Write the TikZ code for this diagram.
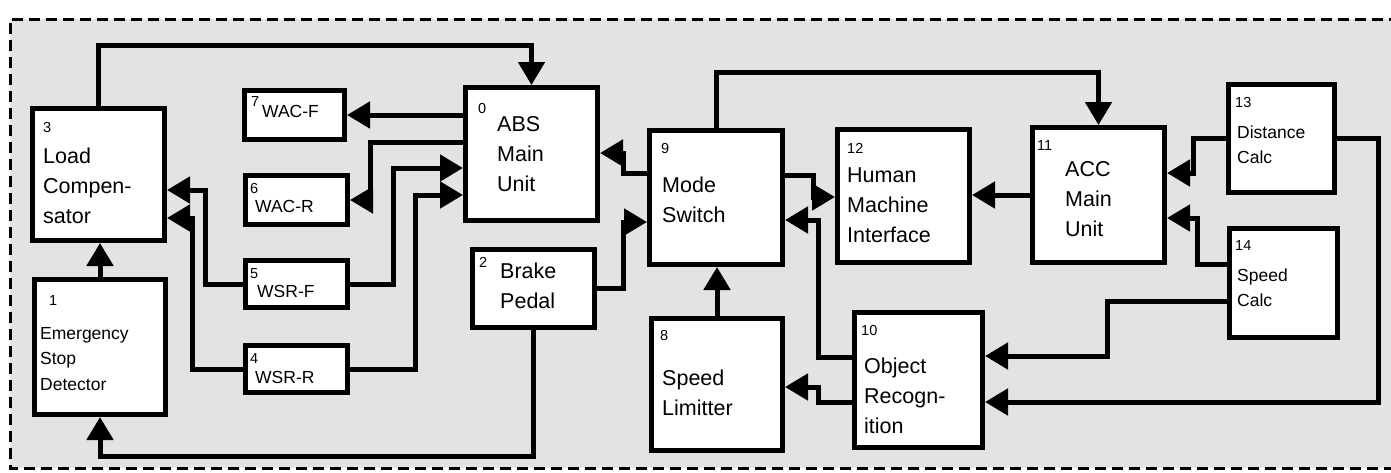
\documentclass[tikz,border=0pt]{standalone}
\usepackage{fontspec}
\setmainfont{Liberation Sans}
\usetikzlibrary{arrows.meta}

\begin{document}
\begin{tikzpicture}[x=1pt,y=-1pt,
    box/.style={draw, line width=5pt, fill=white, inner sep=0pt},
    wire/.style={line width=5pt, -{Triangle[length=23pt,width=26pt]}},
    num/.style={anchor=base west, inner sep=0pt, font=\fontsize{14.5}{16}\selectfont},
    txt/.style={anchor=base west, inner sep=0pt, align=left, font=\fontsize{21.5}{30}\selectfont},
    small/.style={anchor=base west, inner sep=0pt, align=left, font=\fontsize{17.5}{25.5}\selectfont}]
    \useasboundingbox (0,0) rectangle (1391,472);

    % background and dashed frame
    \fill[black!11] (10,19) rectangle (1400,468);
    \draw[line width=3pt, dash pattern=on 11pt off 6pt] (1400,19) -- (10,19) -- (10,468) -- (1400,468);

    % blocks
    \node[box, minimum width=132pt, minimum height=133pt] (abs) at (531.5,154) {};
    \node[box, minimum width=132pt, minimum height=132pt] (lc) at (98.5,174.5) {};
    \node[box, minimum width=131pt, minimum height=135pt] (esd) at (100,347) {};
    \node[box, minimum width=100pt, minimum height=49pt] (wacf) at (294.5,115) {};
    \node[box, minimum width=102pt, minimum height=49pt] (wacr) at (296.5,200) {};
    \node[box, minimum width=102pt, minimum height=47pt] (wsrf) at (296.5,284) {};
    \node[box, minimum width=102pt, minimum height=47pt] (wsrr) at (296.5,369) {};
    \node[box, minimum width=122pt, minimum height=78pt] (bp) at (533.5,288.5) {};
    \node[box, minimum width=133pt, minimum height=134pt] (ms) at (716,197.5) {};
    \node[box, minimum width=131pt, minimum height=132pt] (sl) at (717,384.5) {};
    \node[box, minimum width=132pt, minimum height=133pt] (hmi) at (903.5,196) {};
    \node[box, minimum width=128pt, minimum height=135pt] (orec) at (918.5,380) {};
    \node[box, minimum width=132pt, minimum height=135pt] (acc) at (1098.5,195) {};
    \node[box, minimum width=106pt, minimum height=108pt] (dc) at (1281.5,138.5) {};
    \node[box, minimum width=108pt, minimum height=109pt] (sc) at (1283.5,283) {};

    % labels (multi-line texts sit on their last baseline)
    \node[num] (abs-num) at (478,113) {0};
    \node[txt] (abs-txt) at (497,191) {ABS\\Main\\Unit};
    \node[num] (lc-num) at (43,132) {3};
    \node[txt] (lc-txt) at (43,223) {Load\\Compen-\\sator};
    \node[num] (esd-num) at (49,305) {1};
    \node[small] (esd-txt) at (40,390) {Emergency\\Stop\\Detector};
    \node[num] (wacf-num) at (251,106) {7};
    \node[small] (wacf-txt) at (262,117) {WAC-F};
    \node[num] (wacr-num) at (250,193) {6};
    \node[small] (wacr-txt) at (255,212) {WAC-R};
    \node[num] (wsrf-num) at (250,278) {5};
    \node[small] (wsrf-txt) at (257,297) {WSR-F};
    \node[num] (wsrr-num) at (250,363) {4};
    \node[small] (wsrr-txt) at (255,383) {WSR-R};
    \node[num] (bp-num) at (479,267) {2};
    \node[txt] (bp-txt) at (500,308) {Brake\\Pedal};
    \node[num] (ms-num) at (661,153) {9};
    \node[txt] (ms-txt) at (662,222) {Mode\\Switch};
    \node[num] (sl-num) at (660,340) {8};
    \node[txt] (sl-txt) at (662,415) {Speed\\Limitter};
    \node[num] (hmi-num) at (847,153) {12};
    \node[txt] (hmi-txt) at (847,242) {Human\\Machine\\Interface};
    \node[num] (orec-num) at (861,335) {10};
    \node[txt] (orec-txt) at (864,433) {Object\\Recogn-\\ition};
    \node[num] (acc-num) at (1037,150) {11};
    \node[txt] (acc-txt) at (1065,236) {ACC\\Main\\Unit};
    \node[num] (dc-num) at (1235,107) {13};
    \node[small] (dc-txt) at (1237,163.5) {Distance\\Calc};
    \node[num] (sc-num) at (1235,250) {14};
    \node[small] (sc-txt) at (1237,306.5) {Speed\\Calc};

    % connections
    \draw[wire] (lc.north) -- (lc.north |- 0,45) -| (abs.north);
    \draw[wire] (ms.north) -- (ms.north |- 0,72) -| (acc.north);
    \draw[wire] (abs.west |- wacf.east) -- (wacf.east);
    \draw[wire] (abs.west |- 0,142) -| (370,200) -- (wacr.east);
    \draw[wire] (wsrf.east) -| (393,168) -- (abs.west |- 0,168);
    \draw[wire] (wsrr.east) -| (415,195) -- (abs.west |- 0,195);
    \draw[wire] (wsrf.west) -| (205,190) -- (lc.east |- 0,190);
    \draw[wire] (wsrr.west) -| (192,218) -- (lc.east |- 0,218);
    \draw[wire] (esd.north) -- (esd.north |- lc.south);
    \draw[wire] (bp.south) |- (esd.south |- 0,456) -- (esd.south);
    \draw[wire] (ms.west |- 0,173) -| (623,153) -- (abs.east |- 0,153);
    \draw[wire] (bp.east) -| (623,222) -- (ms.west |- 0,222);
    \draw[wire] (sl.north) -- (sl.north |- ms.south);
    \draw[wire] (ms.east |- 0,175) -| (813,197) -- (hmi.west |- 0,197);
    \draw[wire] (orec.west |- 0,357) -| (818,220) -- (ms.east |- 0,220);
    \draw[wire] (orec.west |- 0,402) -| (818,387) -- (sl.east |- 0,387);
    \draw[wire] (acc.west) -- (acc.west -| hmi.east);
    \draw[wire] (dc.west) -| (1193,173) -- (acc.east |- 0,173);
    \draw[wire] (sc.west |- 0,264) -| (1197,218) -- (acc.east |- 0,218);
    \draw[wire] (sc.west |- 0,301) -| (1107,356) -- (orec.east |- 0,356);
    \draw[wire] (dc.east) -| (1378,402) -- (orec.east |- 0,402);
\end{tikzpicture}
\end{document}
